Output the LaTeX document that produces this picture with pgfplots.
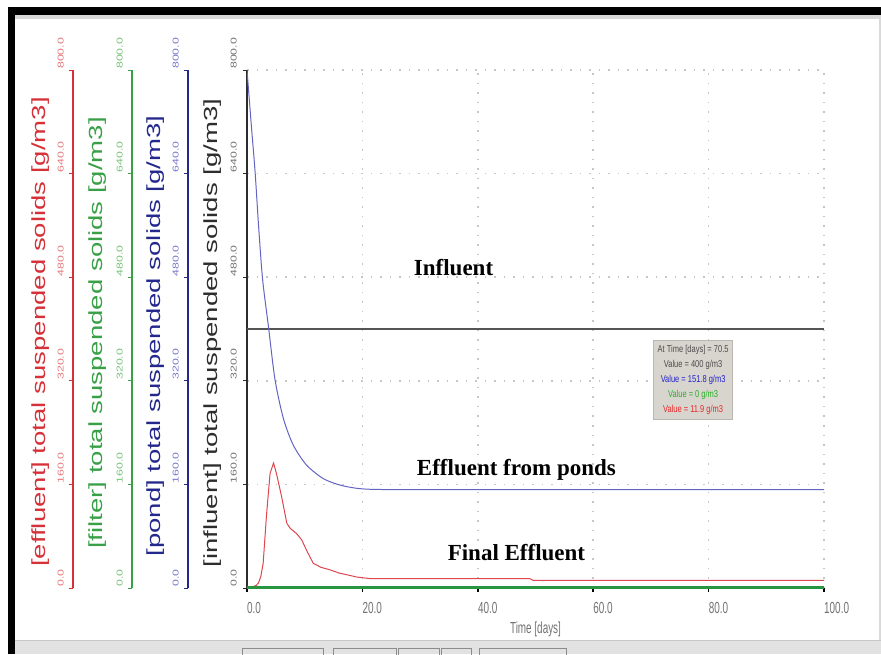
\documentclass[border=0pt]{standalone}
\usepackage{pgfplots}
\pgfplotsset{compat=1.18}
\usepackage{graphicx}
\usepackage{fontspec}
\setmainfont{Liberation Sans}
\newfontfamily\annfont{Liberation Serif}

\definecolor{cRed}{RGB}{214,48,56}
\definecolor{cRedL}{RGB}{232,120,125}
\definecolor{cGreen}{RGB}{58,160,72}
\definecolor{cGreenL}{RGB}{120,195,120}
\definecolor{cBlue}{RGB}{36,40,140}
\definecolor{cBlueL}{RGB}{120,120,205}
\definecolor{cBlack}{RGB}{45,45,45}
\definecolor{cGrayT}{RGB}{115,115,115}
\definecolor{pondC}{RGB}{100,100,195}
\definecolor{effC}{RGB}{222,70,80}
\definecolor{filtC}{RGB}{40,150,65}
\definecolor{infC}{RGB}{85,85,85}
\definecolor{tipbg}{RGB}{216,213,206}
\definecolor{tipbd}{RGB}{185,183,176}
\definecolor{barC}{RGB}{226,226,226}

\newcommand{\yl}[1]{\scalebox{1.45}[1]{#1}}
\newcommand{\xl}[1]{\scalebox{0.62}[1]{#1}}
\newcommand{\tl}[1]{\scalebox{0.75}[1]{#1}}

\pgfplotsset{
  sideaxis/.style 2 args={
    anchor=south west, scale only axis, width=10pt, height=518pt,
    xmin=0, xmax=1, ymin=0, ymax=800, hide x axis,
    axis y line*=left, axis line style={-},
    y axis line style={draw=#1, line width=1.6pt},
    ytick={0,160,320,480,640,800},
    yticklabels={\yl{0.0},\yl{160.0},\yl{320.0},\yl{480.0},\yl{640.0},\yl{800.0}},
    tick align=outside, major tick length=4pt,
    ytick style={draw=#1, line width=1pt},
    yticklabel style={rotate=90, anchor=south west, inner xsep=1pt, inner ysep=5pt,
      text=#2, font=\fontsize{8.5}{8.5}\selectfont},
  }
}

\begin{document}
\begin{tikzpicture}
\useasboundingbox (0,0) rectangle (881pt,654pt);
\fill[white] (0,0) rectangle (881pt,654pt);
% screenshot frame
\fill[barC] (15pt,0) rectangle (881pt,14pt);
\draw[black!22, line width=1pt] (15pt,14pt) -- (881pt,14pt);
\foreach \a/\b in {242/323,333/396,398/439,441/471,479/566}
  \draw[black!45, line width=0.8pt] (\a pt,-2pt) rectangle (\b pt,6pt);
\fill[black] (8pt,0) rectangle (15pt,647pt);
\fill[black] (8pt,639pt) rectangle (881pt,647pt);
\fill[black!15] (15pt,635pt) rectangle (881pt,639pt);
\draw[black!15, line width=1.5pt] (880pt,14pt) -- (880pt,639pt);

% side axes
\begin{axis}[sideaxis={cRed}{cRedL}, at={(73pt,66pt)}]
\end{axis}
\begin{axis}[sideaxis={cGreen}{cGreenL}, at={(132pt,66pt)}]
\end{axis}
\begin{axis}[sideaxis={cBlue}{cBlueL}, at={(188pt,66pt)}]
\end{axis}

% main axis
\begin{axis}[at={(247pt,66pt)}, anchor=south west, scale only axis,
  width=577pt, height=518pt,
  xmin=0, xmax=100, ymin=0, ymax=800,
  axis x line*=bottom, axis y line*=left, axis line style={-},
  x axis line style={draw=cBlack, line width=1pt},
  y axis line style={draw=cBlack, line width=2.6pt},
  xtick={0,20,40,60,80,100},
  xticklabels={\xl{0.0},\xl{20.0},\xl{40.0},\xl{60.0},\xl{80.0},\xl{100.0}},
  xticklabel style={anchor=north west, inner sep=0pt, yshift=-10pt,
    text=cGrayT, font=\fontsize{16}{16}\selectfont},
  ytick={0,160,320,480,640,800},
  yticklabels={\yl{0.0},\yl{160.0},\yl{320.0},\yl{480.0},\yl{640.0},\yl{800.0}},
  yticklabel style={rotate=90, anchor=south west, inner xsep=1pt, inner ysep=6pt,
    text=cGrayT, font=\fontsize{8.5}{8.5}\selectfont},
  tick align=outside, major tick length=4pt,
  ytick style={draw=cBlack, line width=1pt},
  xtick style={draw=black, line width=1.5pt},
  grid=major, grid style={draw=black!22, line width=1.5pt, dash pattern=on 1.5pt off 8pt},
  xlabel={\scalebox{0.62}[1]{Time [days]}},
  xlabel style={at={(axis description cs:0.5,0)}, anchor=north, inner sep=0pt,
    yshift=-34pt, text=cGrayT, font=\fontsize{16}{16}\selectfont},
]
% influent
\addplot[infC, line width=1.3pt] coordinates {(0,400) (100,400)};
% pond
\addplot[pondC, line width=1pt, smooth, tension=0.45] coordinates {
(0,800) (0.7,720) (1.4,643) (2.0,560) (2.7,477) (3.7,405) (4.85,322) (6.3,262)
(8.0,221) (10.3,190) (13.2,169) (16.1,159) (19,154) (22,152.3) (30,151.9) (60,151.8) (100,151.8)};
% effluent
\addplot[effC, line width=1pt] coordinates {
(0,1.5) (1.0,2) (1.6,4) (2.0,8) (2.4,18) (2.8,38) (3.4,115) (4.0,177) (4.6,193)
(5.1,177) (6.0,141) (6.9,100) (7.5,92) (8.6,84) (9.5,74) (10.5,55) (11.5,38)
(12.8,32) (14.4,28) (16,23) (17.3,20.5) (19,17) (21.3,14.5) (30,14.5) (49,14.5)
(49.6,11.9) (100,11.9)};
% filter
\addplot[filtC, line width=3.2pt] coordinates {(0,0) (100,0)};

\node[font=\annfont\fontsize{23}{23}\selectfont\bfseries, anchor=base] at (axis cs:35.8,483) {Influent};
\node[font=\annfont\fontsize{23}{23}\selectfont\bfseries, anchor=base] at (axis cs:46.7,174.5) {Effluent from ponds};
\node[font=\annfont\fontsize{23}{23}\selectfont\bfseries, anchor=base] at (axis cs:46.7,42) {Final Effluent};

\node[anchor=north west, fill=tipbg, draw=tipbd, line width=0.8pt, inner xsep=3pt, inner ysep=5pt,
  minimum width=79pt, align=center, font=\fontsize{10}{15}\selectfont] at (axis cs:70.4,383)
  {\textcolor{black!70}{\tl{At Time [days] = 70.5}}\\
   \textcolor{black!70}{\tl{Value = 400 g/m3}}\\
   \textcolor[RGB]{35,35,200}{\tl{Value = 151.8 g/m3}}\\
   \textcolor[RGB]{40,175,40}{\tl{Value = 0 g/m3}}\\
   \textcolor[RGB]{230,40,40}{\tl{Value = 11.9 g/m3}}};
\end{axis}

% axis titles
\begin{scope}[every node/.style={rotate=90, anchor=center, inner sep=0pt, font=\fontsize{19}{19}\selectfont}]
\node[text=cRed] at (41pt,322pt) {\scalebox{1.45}[1]{[effluent] total suspended solids [g/m3]}};
\node[text=cGreen] at (97.5pt,321pt) {\scalebox{1.45}[1]{[filter] total suspended solids [g/m3]}};
\node[text=cBlue] at (156pt,318pt) {\scalebox{1.45}[1]{[pond] total suspended solids [g/m3]}};
\node[text=cBlack] at (213pt,321pt) {\scalebox{1.45}[1]{[influent] total suspended solids [g/m3]}};
\end{scope}
\end{tikzpicture}
\end{document}
